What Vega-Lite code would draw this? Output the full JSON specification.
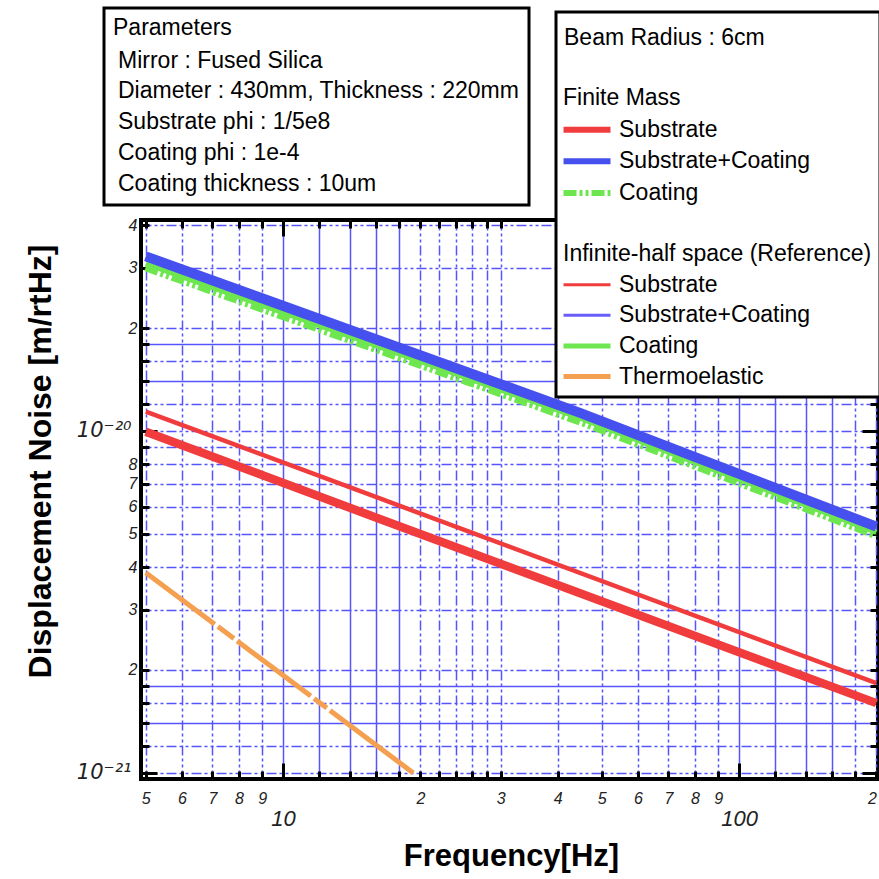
{
  "$schema": "https://vega.github.io/schema/vega-lite/v6.json",
  "autosize": {"type": "none"},
  "padding": {"left": 141, "top": 220, "right": 1, "bottom": 100},
  "width": 737,
  "height": 559,
  "background": "white",
  "config": {
    "font": "Liberation Sans",
    "view": {"stroke": "black", "strokeWidth": 4},
    "legend": {"strokeWidth": 3}
  },
  "datasets": {
    "curves": [
      {"series": "I-Coating", "f": 5, "noise": 3.08e-20},
      {"series": "I-Coating", "f": 44.8, "noise": 1.09e-20},
      {"series": "I-Coating", "f": 200, "noise": 5.05e-21},
      {"series": "I-Substrate+Coating", "f": 5, "noise": 3.22e-20},
      {"series": "I-Substrate+Coating", "f": 44.8, "noise": 1.12e-20},
      {"series": "I-Substrate+Coating", "f": 200, "noise": 5.22e-21},
      {"series": "F-Coating", "f": 5, "noise": 3.02e-20},
      {"series": "F-Coating", "f": 44.8, "noise": 1.07e-20},
      {"series": "F-Coating", "f": 200, "noise": 4.97e-21},
      {"series": "F-Substrate+Coating", "f": 5, "noise": 3.24e-20},
      {"series": "F-Substrate+Coating", "f": 44.8, "noise": 1.13e-20},
      {"series": "F-Substrate+Coating", "f": 200, "noise": 5.25e-21},
      {"series": "I-Substrate", "f": 5, "noise": 1.14e-20},
      {"series": "I-Substrate", "f": 16.3, "noise": 6.35e-21},
      {"series": "I-Substrate", "f": 200, "noise": 1.83e-21},
      {"series": "F-Substrate", "f": 5, "noise": 9.95e-21},
      {"series": "F-Substrate", "f": 16.3, "noise": 5.53e-21},
      {"series": "F-Substrate", "f": 200, "noise": 1.6e-21},
      {"series": "I-Thermoelastic", "f": 5, "noise": 3.85e-21},
      {"series": "I-Thermoelastic", "f": 10, "noise": 1.93e-21},
      {"series": "I-Thermoelastic", "f": 19.3, "noise": 1.0e-21}
    ],
    "params": [
      {"param": "Mirror : Fused Silica"},
      {"param": "Diameter : 430mm, Thickness : 220mm"},
      {"param": "Substrate phi : 1/5e8"},
      {"param": "Coating phi : 1e-4"},
      {"param": "Coating thickness : 10um"}
    ]
  },
  "layer": [
    {
      "data": {"name": "curves"},
      "encoding": {
        "x": {
          "field": "f", "type": "quantitative",
          "scale": {"type": "log", "domain": [4.88, 201.7], "nice": false},
          "axis": {
            "orient": "bottom",
            "values": [5,6,7,8,9,10,12,14,16,18,20,22,24,26,28,30,40,50,60,70,80,90,100,120,140,160,180,200],
            "domain": false,
            "grid": true,
            "gridColor": "#5555ff",
            "gridWidth": 1.5,
            "gridDash": {"condition": {"test": "indexof([10,12,14,16,18,100,120,140,160], datum.value) >= 0", "value": []}, "value": [10,3,3,3,3,3]},
            "ticks": true,
            "tickColor": "black",
            "tickWidth": 3,
            "tickSize": {"condition": {"test": "datum.value == 10 || datum.value == 100", "value": -16}, "value": -8},
            "labelExpr": "datum.value == 10 ? '10' : datum.value == 100 ? '100' : indexof([5,6,7,8,9], datum.value) >= 0 ? format(datum.value, 'd') : indexof([20,30,40,50,60,70,80,90], datum.value) >= 0 ? format(datum.value / 10, 'd') : datum.value == 200 ? '2' : ''",
            "labelFontStyle": "italic",
            "labelFontSize": {"condition": {"test": "datum.value == 10 || datum.value == 100", "value": 22}, "value": 16},
            "labelPadding": {"condition": {"test": "datum.value == 10 || datum.value == 100", "value": 45}, "value": 19},
            "labelAlign": {"condition": {"test": "datum.value == 200", "value": "right"}, "value": "center"},
            "labelColor": "#222222",
            "labelBaseline": "top",
            "labelFlush": false,
            "labelOverlap": false,
            "labelBound": false,
            "title": "Frequency[Hz]",
            "titleFontSize": 31,
            "titleFontWeight": "bold",
            "titleColor": "black",
            "titleX": 370,
            "titleY": 86,
            "titleAlign": "center",
            "titleBaseline": "alphabetic"
          }
        },
        "y": {
          "field": "noise", "type": "quantitative",
          "scale": {"type": "log", "domain": [9.6e-22, 4.14e-20], "nice": false},
          "axis": {
            "orient": "left",
            "values": [1e-21,1.2e-21,1.4e-21,1.6e-21,1.8e-21,2e-21,3e-21,4e-21,5e-21,6e-21,7e-21,8e-21,9e-21,1e-20,1.2e-20,1.4e-20,1.6e-20,1.8e-20,2e-20,3e-20,4e-20],
            "domain": false,
            "grid": true,
            "gridColor": "#5555ff",
            "gridWidth": 1.5,
            "gridDash": {"condition": {"test": "indexof([1.4e-21,1.8e-21,1.4e-20,1.8e-20], datum.value) >= 0", "value": []}, "value": [10,3,3,3,3,3]},
            "tickColor": "black",
            "tickWidth": 3,
            "tickSize": {"condition": {"test": "datum.value == 1e-20 || datum.value == 1e-21", "value": -16}, "value": -8},
            "labelExpr": "datum.value == 1e-20 ? '10⁻²⁰' : datum.value == 1e-21 ? '10⁻²¹' : indexof([2e-21,3e-21,4e-21,5e-21,6e-21,7e-21,8e-21,2e-20,3e-20,4e-20], datum.value) >= 0 ? format(datum.value / pow(10, floor(log(datum.value) / LN10 + 1e-9)), '.0f') : ''",
            "labelFontStyle": "italic",
            "labelFont": {"condition": {"test": "datum.value == 1e-20 || datum.value == 1e-21", "value": "DejaVu Sans"}, "value": "Liberation Sans"},
            "labelFontSize": {"condition": {"test": "datum.value == 1e-20 || datum.value == 1e-21", "value": 21}, "value": 16},
            "labelPadding": {"condition": {"test": "datum.value == 1e-20 || datum.value == 1e-21", "value": 26}, "value": 12},
            "labelColor": "#222222",
            "labelAlign": "right",
            "labelBaseline": "middle",
            "labelOverlap": false,
            "labelFlush": false,
            "labelBound": false,
            "title": "Displacement Noise [m/rtHz]",
            "titleFontSize": 32,
            "titleFontWeight": "bold",
            "titleColor": "black",
            "titleX": -101,
            "titleY": 241,
            "titleAngle": -90,
            "titleAlign": "center",
            "titleBaseline": "middle"
          }
        },
        "color": {
          "field": "series", "type": "nominal",
          "scale": {
            "domain": ["  ", "Finite Mass", "F-Substrate", "F-Substrate+Coating", "F-Coating", " ", "Infinite-half space (Reference)", "I-Substrate", "I-Substrate+Coating", "I-Coating", "I-Thermoelastic"],
            "range": ["#ffffff", "#ffffff", "#f03c3c", "#4650ee", "#6ee650", "#ffffff", "#ffffff", "#f03c3c", "#6a5cf8", "#6ee650", "#f5a050"]
          },
          "legend": {
            "orient": "none",
            "legendX": 415,
            "legendY": -208,
            "direction": "vertical",
            "title": "Beam Radius : 6cm",
            "titleFontSize": 23,
            "titleFontWeight": "normal",
            "titleColor": "black",
            "titlePadding": 13,
            "titleLimit": 600,
            "labelFontSize": 23,
            "labelColor": "black",
            "labelLimit": 600,
            "labelExpr": "indexof(datum.label, '-') == 1 ? slice(datum.label, 2) : datum.label",
            "symbolType": "M-1.71,0H5",
            "symbolSize": 196,
            "symbolStrokeWidth": 5,
            "labelOffset": 32,
            "rowPadding": 6.6,
            "padding": 8,
            "fillColor": "white",
            "strokeColor": "black",
            "encode": {
              "symbols": {"update": {
                "strokeWidth": {"signal": "indexof(['F-Substrate','F-Substrate+Coating','F-Coating'], datum.value) >= 0 ? 6 : (datum.value == 'I-Coating' || datum.value == 'I-Thermoelastic' ? 5 : 3)"},
                "strokeDash": {"signal": "datum.value == 'F-Coating' ? [13,3,3,3,3,3] : []"},
                "opacity": {"signal": "indexof(['  ', ' ', 'Finite Mass', 'Infinite-half space (Reference)'], datum.value) >= 0 ? 0 : 1"}
              }},
              "labels": {"update": {
                "dx": {"signal": "datum.value == 'Infinite-half space (Reference)' || datum.value == 'Finite Mass' ? -56 : 0"}
              }},
              "title": {"update": {"dy": {"value": 7}}},
              "legend": {"update": {"strokeWidth": {"value": 3}}}
            }
          }
        }
      },
      "layer": [
        {"transform": [{"filter": "datum.series == 'I-Coating'"}], "mark": {"type": "line", "strokeWidth": 5}},
        {"transform": [{"filter": "datum.series == 'I-Substrate+Coating'"}], "mark": {"type": "line", "strokeWidth": 3}},
        {"transform": [{"filter": "datum.series == 'F-Coating'"}], "mark": {"type": "line", "strokeWidth": 9, "strokeDash": [13,3,3,3,3,3]}},
        {"transform": [{"filter": "datum.series == 'F-Substrate+Coating'"}], "mark": {"type": "line", "strokeWidth": 10}},
        {"transform": [{"filter": "datum.series == 'I-Substrate'"}], "mark": {"type": "line", "strokeWidth": 4.5}},
        {"transform": [{"filter": "datum.series == 'F-Substrate'"}], "mark": {"type": "line", "strokeWidth": 8.5}},
        {"transform": [{"filter": "datum.series == 'I-Thermoelastic'"}], "mark": {"type": "line", "strokeWidth": 5, "strokeDash": [86,4,20,4,92,4,16,4,400,0]}}
      ]
    },
    {
      "data": {"name": "curves"},
      "mark": {"type": "line", "opacity": 0},
      "encoding": {
        "x": {
          "field": "f", "type": "quantitative",
          "scale": {"type": "log", "domain": [4.88, 201.7], "nice": false},
          "axis": {
            "orient": "top",
            "values": [5,6,7,8,9,10,12,14,16,18,20,22,24,26,28,30,40,50,60,70,80,90,100,120,140,160,180,200],
            "domain": false, "grid": false, "labels": false, "title": null,
            "tickColor": "black", "tickWidth": 3,
            "tickSize": {"condition": {"test": "datum.value == 10 || datum.value == 100", "value": -16}, "value": -8}
          }
        },
        "y": {
          "field": "noise", "type": "quantitative",
          "scale": {"type": "log", "domain": [9.6e-22, 4.14e-20], "nice": false},
          "axis": {
            "orient": "right",
            "values": [1e-21,1.2e-21,1.4e-21,1.6e-21,1.8e-21,2e-21,3e-21,4e-21,5e-21,6e-21,7e-21,8e-21,9e-21,1e-20,1.2e-20,1.4e-20,1.6e-20,1.8e-20,2e-20,3e-20,4e-20],
            "domain": false, "grid": false, "labels": false, "title": null,
            "tickColor": "black", "tickWidth": 3,
            "tickSize": {"condition": {"test": "datum.value == 1e-20 || datum.value == 1e-21", "value": -16}, "value": -8}
          }
        },
        "detail": {"field": "series", "type": "nominal"}
      }
    },
    {
      "data": {"name": "params"},
      "encoding": {
        "shape": {
          "field": "param", "type": "nominal", "sort": null,
          "legend": {
            "orient": "none",
            "legendX": -37,
            "legendY": -212,
            "title": "Parameters",
            "titleFontSize": 23,
            "titleFontWeight": "normal",
            "titleColor": "black",
            "titlePadding": 9,
            "titleLimit": 600,
            "labelFontSize": 23,
            "labelColor": "black",
            "labelLimit": 600,
            "symbolSize": 1,
            "symbolOpacity": 0,
            "symbolStrokeWidth": 0,
            "labelOffset": -18,
            "rowPadding": 6.8,
            "padding": 9,
            "fillColor": "white",
            "strokeColor": "black"
          }
        }
      },
      "layer": [
        {"mark": {"type": "point", "opacity": 0}}
      ]
    }
  ],
  "resolve": {"axis": {"x": "independent", "y": "independent"}}
}
